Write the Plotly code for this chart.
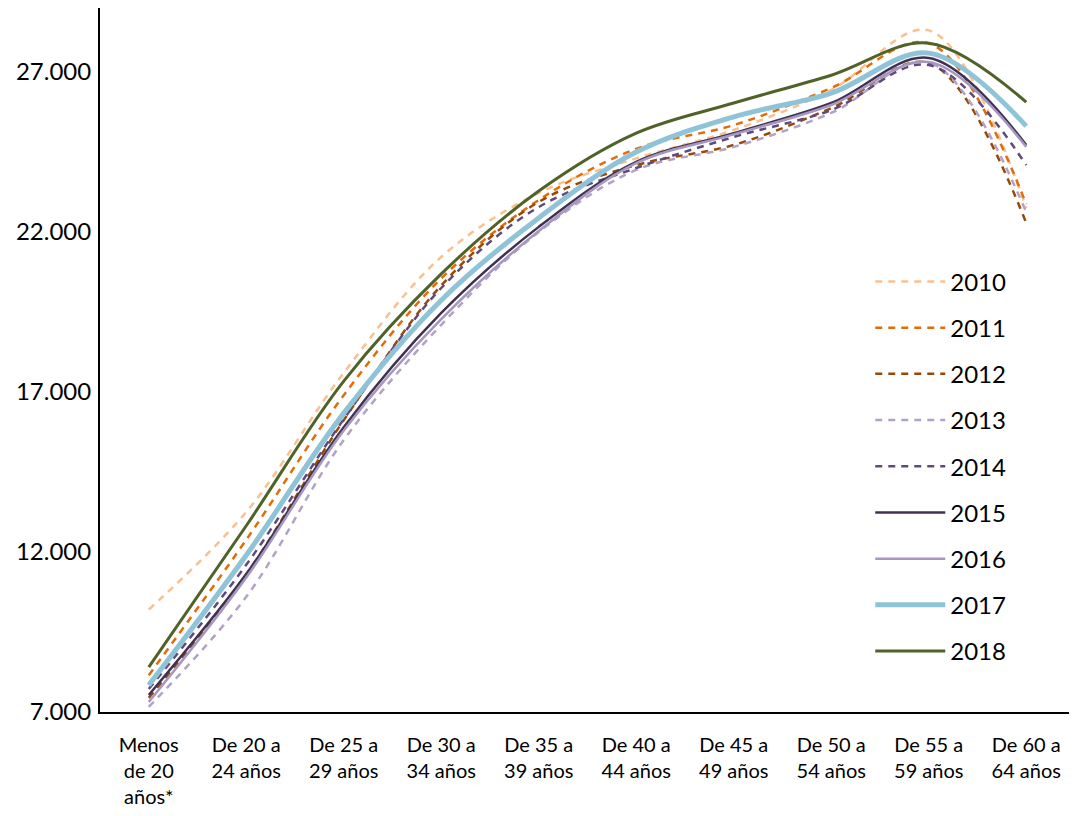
import plotly.graph_objects as go

# age brackets (x categories)
categories = [
    "Menos<br>de 20<br>años*", "De 20 a<br>24 años", "De 25 a<br>29 años",
    "De 30 a<br>34 años", "De 35 a<br>39 años", "De 40 a<br>44 años",
    "De 45 a<br>49 años", "De 50 a<br>54 años", "De 55 a<br>59 años",
    "De 60 a<br>64 años",
]

# mean salary per year
y2010 = [10200, 13250, 17600, 21220, 23220, 24300, 25190, 26440, 28300, 22750]
y2011 = [8150, 12380, 16900, 20550, 23000, 24600, 25340, 26500, 27900, 22870]
y2012 = [7440, 11300, 16120, 20330, 22940, 24090, 24720, 25870, 27280, 22280]
y2013 = [7160, 10600, 15500, 19100, 22000, 23940, 24660, 25720, 27300, 22620]
y2014 = [7720, 11600, 16150, 20250, 22780, 24000, 24970, 25810, 27220, 24090]
y2015 = [7530, 11310, 15900, 19470, 22160, 24190, 25090, 26030, 27440, 24720]
y2016 = [7310, 11200, 15800, 19280, 22030, 24150, 25050, 25970, 27310, 24660]
y2017 = [7840, 11900, 16340, 19870, 22440, 24500, 25600, 26340, 27590, 25310]
y2018 = [8400, 12820, 17340, 20690, 23280, 25090, 26030, 26900, 27900, 26060]

series = [
    ("2010", y2010, "#FAC090", "7px,6px", 2.5),
    ("2011", y2011, "#E36C09", "7px,6px", 2.5),
    ("2012", y2012, "#984807", "7px,6px", 2.5),
    ("2013", y2013, "#B3A2C7", "7px,6px", 2.5),
    ("2014", y2014, "#604A7B", "7px,6px", 2.5),
    ("2015", y2015, "#403151", "solid", 2.5),
    ("2016", y2016, "#A597C0", "solid", 2.5),
    ("2017", y2017, "#8FC3D8", "solid", 5),
    ("2018", y2018, "#4F6228", "solid", 3),
]

FONT = "Lato"

fig = go.Figure()
for name, vals, color, dash, width in series:
    fig.add_trace(go.Scatter(x=categories, y=vals, name=name, mode="lines",
                             legendgroup=name,
                             line=dict(color=color, dash=dash, width=width,
                                       shape="spline", smoothing=1)))

# page body has an 8px margin, so the figure is shrunk by that much
fig.update_layout(
    width=1069, height=808,
    margin=dict(l=92, r=2, t=0, b=104),
    plot_bgcolor="white", paper_bgcolor="white",
    separators=",.",
    font=dict(family=FONT, size=20, color="black"),
    legend=dict(x=0.79, y=0.643, xanchor="left", yanchor="top",
                font=dict(size=24), tracegroupgap=12, itemwidth=70,
                bgcolor="rgba(0,0,0,0)"),
)
fig.update_xaxes(type="category", range=[-0.5, 9.5], showgrid=False,
                 showline=True, linecolor="black", linewidth=2,
                 ticks="", ticklabelstandoff=14, automargin=False)
fig.update_yaxes(range=[7000, 29000], tickvals=[7000, 12000, 17000, 22000, 27000],
                 tickformat=",.0f", showgrid=False, zeroline=False,
                 showline=True, linecolor="black", linewidth=2, ticks="",
                 tickfont=dict(size=24), ticklabelstandoff=2, automargin=False)

fig.write_html("out.html")
